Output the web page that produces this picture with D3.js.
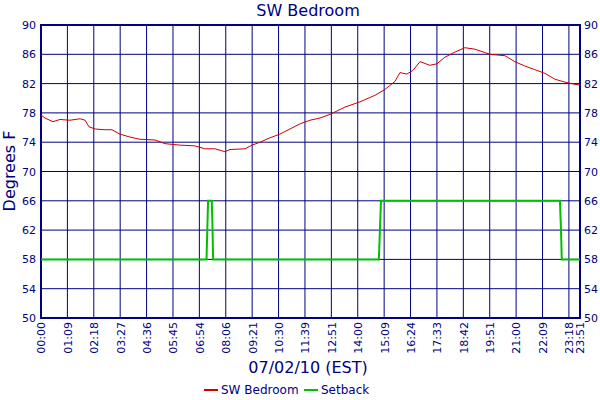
<!DOCTYPE html><html><head><meta charset="utf-8"><script src="https://cdn.jsdelivr.net/npm/d3@7"></script>
<style>body{margin:0;background:#fff}svg{font-family:Verdana,"DejaVu Sans",sans-serif}</style></head><body><svg id="c" width="600" height="400"></svg>
<script>
const tickLabels=["00:00","01:09","02:18","03:27","04:36","05:45","06:54","08:06","09:21","10:30","11:39","12:51","14:00","15:09","16:24","17:33","18:42","19:51","21:00","22:09","23:18","23:51"];
const tickPos=[0,1,2,3,4,5,6,7,8,9,10,11,12,13,14,15,16,17,18,19,20,20.42];
const yTicks=[50,54,58,62,66,70,74,78,82,86,90];
const tempX=[0,0.15,0.45,0.72,1.1,1.48,1.67,1.82,2.05,2.42,2.69,2.99,3.37,3.75,4.32,4.7,5.27,5.83,6.21,6.59,6.97,7.16,7.73,7.99,8.3,8.67,9.05,9.43,9.81,10.19,10.57,10.95,11.52,12.08,12.65,13.03,13.41,13.6,13.86,14.09,14.36,14.73,15,15.3,15.68,16.06,16.44,17.01,17.58,17.95,18.33,18.71,19.09,19.47,19.85,20.23,20.42];
const tempY=[77.7,77.3,76.8,77.1,77,77.2,77,76.1,75.8,75.7,75.7,75.1,74.7,74.4,74.3,73.8,73.6,73.5,73.1,73.1,72.7,73,73.1,73.6,74,74.6,75.1,75.8,76.5,77,77.3,77.8,78.8,79.5,80.4,81.2,82.3,83.5,83.3,83.8,85,84.5,84.7,85.6,86.3,86.9,86.7,86,85.8,85,84.4,83.9,83.4,82.6,82.2,81.9,81.8];
const setX=[0,6.27,6.3,6.33,6.47,6.5,6.52,12.8,12.84,12.88,19.66,19.7,19.73,20.42];
const setY=[58,58,62,66,66,62,58,58,62,66,66,62,58,58];
const navy="#000080";
const svg=d3.select("#c");
const L=41,R=580,T=25,B=318;
const x=d3.scaleLinear().domain([0,20.42]).range([L,R]);
const y=d3.scaleLinear().domain([50,90]).range([B,T]);
const g=svg.append("g");
g.selectAll(".h").data(yTicks).join("line").attr("x1",L).attr("x2",R).attr("y1",d=>y(d)).attr("y2",d=>y(d)).attr("stroke",navy);
g.selectAll(".v").data(tickPos).join("line").attr("x1",d=>x(d)).attr("x2",d=>x(d)).attr("y1",T).attr("y2",B).attr("stroke",navy);
g.append("rect").attr("x",L).attr("y",T).attr("width",R-L).attr("height",B-T).attr("fill","none").attr("stroke",navy).attr("stroke-width",2);
const ya=d3.axisLeft(y).tickValues(yTicks).tickSize(0).tickPadding(5);
svg.append("g").attr("transform",`translate(${L},0)`).call(ya).call(s=>s.select(".domain").remove()).selectAll("text").attr("fill",navy).style("font-size","11px").style("font-family","Verdana,DejaVu Sans");
const ya2=d3.axisRight(y).tickValues(yTicks).tickSize(0).tickPadding(4);
svg.append("g").attr("transform",`translate(${R},0)`).call(ya2).call(s=>s.select(".domain").remove()).selectAll("text").attr("fill",navy).style("font-size","11px").style("font-family","Verdana,DejaVu Sans");
const xa=d3.axisBottom(x).tickValues(tickPos).tickFormat((d,i)=>tickLabels[i]).tickSize(0).tickPadding(0);
const xg=svg.append("g").attr("transform",`translate(0,${B})`).call(xa);
xg.select(".domain").remove();
xg.selectAll("text").attr("fill",navy).style("font-size","11px").style("font-family","Verdana,DejaVu Sans").attr("transform","rotate(-90)").attr("text-anchor","end").attr("x",-4).attr("y",0).attr("dy","0.35em");
const tl=d3.line().x((d,i)=>x(tempX[i])).y(d=>y(d));
svg.append("path").attr("d",tl(tempY)).attr("fill","none").attr("stroke","#cc0000").attr("stroke-width",1);
const sl=d3.line().x((d,i)=>x(setX[i])).y(d=>y(d));
svg.append("path").attr("d",sl(setY)).attr("fill","none").attr("stroke","#00c000").attr("stroke-width",2);
svg.append("text").attr("x",308).attr("y",16).attr("text-anchor","middle").attr("fill",navy).style("font-size","16px").text("SW Bedroom");
svg.append("text").attr("transform","translate(15,171) rotate(-90)").attr("text-anchor","middle").attr("fill",navy).style("font-size","16px").text("Degrees F");
svg.append("text").attr("x",308).attr("y",373).attr("text-anchor","middle").attr("fill",navy).style("font-size","16px").text("07/02/10 (EST)");
const leg=[["SW Bedroom","#cc0000",204],["Setback","#00c000",304]];
leg.forEach(([t,c,lx])=>{svg.append("line").attr("x1",lx).attr("x2",lx+14).attr("y1",390).attr("y2",390).attr("stroke",c).attr("stroke-width",2);
svg.append("text").attr("x",lx+17).attr("y",394).attr("fill",navy).style("font-size","12px").text(t);});
</script></body></html>
